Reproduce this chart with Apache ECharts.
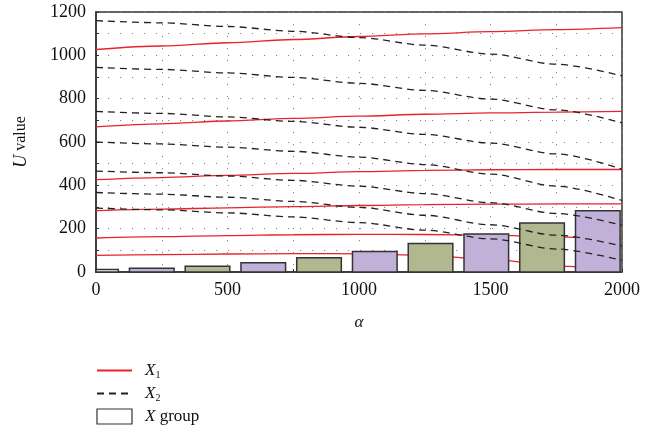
<!DOCTYPE html>
<html><head><meta charset="utf-8">
<script src="https://cdn.jsdelivr.net/npm/echarts@6/dist/echarts.min.js"></script>
<style>html,body{margin:0;padding:0;background:#fff}#c{width:664px;height:443px}</style>
</head><body><div id="c"></div>
<script>
// alpha sample positions for the curves
const alpha = [0, 250, 500, 750, 1000, 1250, 1500, 1750, 2000];
// X1 (red solid) curves
const X1_1 = [1027, 1043, 1058, 1073, 1087, 1099, 1109, 1119, 1128];
const X1_2 = [670, 684, 697, 709, 719, 728, 734, 738, 741];
const X1_3 = [426, 436, 446, 455, 463, 469, 472, 473, 473];
const X1_4 = [283, 290, 296, 302, 307, 311, 313, 314, 314];
const X1_5 = [157, 163, 168, 172, 174, 173, 170, 162, 150];
const X1_6 = [77, 80, 83, 85, 84, 77, 58, 28, 0];
// X2 (black dashed) curves
const X2_1 = [1160, 1150, 1133, 1111, 1082, 1047, 1006, 959, 905];
const X2_2 = [944, 935, 919, 898, 871, 838, 798, 748, 688];
const X2_3 = [741, 732, 716, 695, 668, 635, 595, 545, 475];
const X2_4 = [600, 591, 576, 557, 530, 496, 452, 396, 330];
const X2_5 = [466, 458, 443, 423, 396, 362, 320, 270, 216];
const X2_6 = [367, 359, 345, 326, 298, 262, 218, 170, 120];
const X2_7 = [295, 287, 273, 254, 228, 193, 153, 106, 54];
// X group bars
const barAlpha = [0, 212, 424, 636, 848, 1060, 1272, 1484, 1696, 1908];
const barValues = [12, 17, 26, 43, 66, 95, 132, 175, 226, 283];
// axis ticks
const yTicks = [0, 200, 400, 600, 800, 1000, 1200];
const xTicks = [0, 500, 1000, 1500, 2000];

const FONT = '"Liberation Serif", "DejaVu Serif", serif';
const redLines = [X1_1, X1_2, X1_3, X1_4, X1_5, X1_6];
const dashLines = [X2_1, X2_2, X2_3, X2_4, X2_5, X2_6, X2_7];
const barFill = ['#ffffff', '#c1b1d9', '#b1b78f'];
const barStep = barAlpha[1] - barAlpha[0];

const series = [];
redLines.forEach(v => series.push({
  name: 'X1', type: 'line', z: 1, symbol: 'none', smooth: 0.3, smoothMonotone: 'x',
  lineStyle: { color: '#e8232b', width: 1.3 }, itemStyle: { color: '#e8232b' },
  data: alpha.map((a, i) => [a, v[i]])
}));
dashLines.forEach(v => series.push({
  name: 'X2', type: 'line', z: 3, symbol: 'none', smooth: 0.3, smoothMonotone: 'x',
  lineStyle: { color: '#222', width: 1.3, type: [7, 5] }, itemStyle: { color: '#222' },
  data: alpha.map((a, i) => [a, v[i]])
}));
series.push({
  name: 'X group', type: 'custom', z: 2,
  itemStyle: { color: '#ffffff', borderColor: '#333', borderWidth: 1.5 },
  encode: { x: 0, y: 1 },
  data: barAlpha.map((a, i) => [a, barValues[i], i]),
  renderItem: function (params, api) {
    const top = api.coord([api.value(0), api.value(1)]);
    const base = api.coord([api.value(0), 0]);
    const w = api.size([barStep, 0])[0] * 0.8;
    const cs = params.coordSys;
    const idx = api.value(2);
    const rect = echarts.graphic.clipRectByRect(
      { x: top[0] - w / 2, y: top[1], width: w, height: base[1] - top[1] },
      { x: cs.x, y: cs.y, width: cs.width, height: cs.height });
    if (!rect) return null;
    return {
      type: 'rect', shape: rect,
      style: { fill: idx === 0 ? barFill[0] : (idx % 2 === 1 ? barFill[1] : barFill[2]), stroke: '#333', lineWidth: 1.5 }
    };
  }
});

const chart = echarts.init(document.getElementById('c'), null, { renderer: 'canvas' });
const dotted = { color: '#888', width: 1, type: [1.2, 10.8] };
const plain = v => String(v);
chart.setOption({
  animation: false,
  backgroundColor: '#fff',
  textStyle: { fontFamily: FONT },
  grid: { left: 96, right: 42, top: 12, bottom: 171, show: true, borderColor: '#333', borderWidth: 1.5, backgroundColor: 'transparent' },
  xAxis: {
    type: 'value', min: xTicks[0], max: xTicks[xTicks.length - 1], interval: 500,
    axisLine: { show: true, lineStyle: { color: '#333', width: 1.5 } },
    axisTick: { show: true, inside: true, length: 3, lineStyle: { color: '#333' } },
    minorTick: { show: true, splitNumber: 2, length: 3, lineStyle: { color: '#333' } },
    splitLine: { show: true, lineStyle: dotted },
    minorSplitLine: { show: true, lineStyle: dotted },
    axisLabel: { color: '#111', fontSize: 18, fontFamily: FONT, margin: 9, formatter: plain },
    name: 'α', nameLocation: 'middle', nameGap: 42,
    nameTextStyle: { color: '#111', fontSize: 17, fontStyle: 'italic', fontFamily: FONT }
  },
  yAxis: {
    type: 'value', min: yTicks[0], max: yTicks[yTicks.length - 1], interval: 200,
    axisLine: { show: true, lineStyle: { color: '#333', width: 1.5 } },
    axisTick: { show: true, inside: true, length: 3, lineStyle: { color: '#333' } },
    minorTick: { show: true, splitNumber: 2, length: 3, lineStyle: { color: '#333' } },
    splitLine: { show: true, lineStyle: dotted },
    minorSplitLine: { show: true, lineStyle: dotted },
    axisLabel: { color: '#111', fontSize: 18, fontFamily: FONT, margin: 10, formatter: plain },
    name: '{i|U} value', nameLocation: 'middle', nameGap: 66, nameRotate: 90,
    nameTextStyle: { color: '#111', fontSize: 16, fontFamily: FONT,
      rich: { i: { fontStyle: 'italic', fontSize: 18, fontFamily: FONT, color: '#111' } } }
  },
  legend: {
    orient: 'vertical', left: 96, top: 362, padding: 0, itemWidth: 35, itemHeight: 15, itemGap: 5,
    selectedMode: false,
    data: [
      { name: 'X1', itemStyle: { opacity: 0 } },
      { name: 'X2', itemStyle: { opacity: 0 } },
      { name: 'X group', icon: 'rect', itemStyle: { color: '#fff', borderColor: '#333', borderWidth: 1.2 } }
    ],
    formatter: n => n === 'X1' ? '{i|X}{s|1}' : n === 'X2' ? '{i|X}{s|2}' : '{i|X} group',
    textStyle: { color: '#111', fontSize: 17, fontFamily: FONT, padding: [0, 0, 0, 8],
      rich: {
        i: { fontStyle: 'italic', fontSize: 17, fontFamily: FONT, color: '#111' },
        s: { fontSize: 10, fontFamily: FONT, color: '#111', verticalAlign: 'bottom', padding: [9, 0, 0, 0] }
      } }
  },
  series: series
});
</script></body></html>
